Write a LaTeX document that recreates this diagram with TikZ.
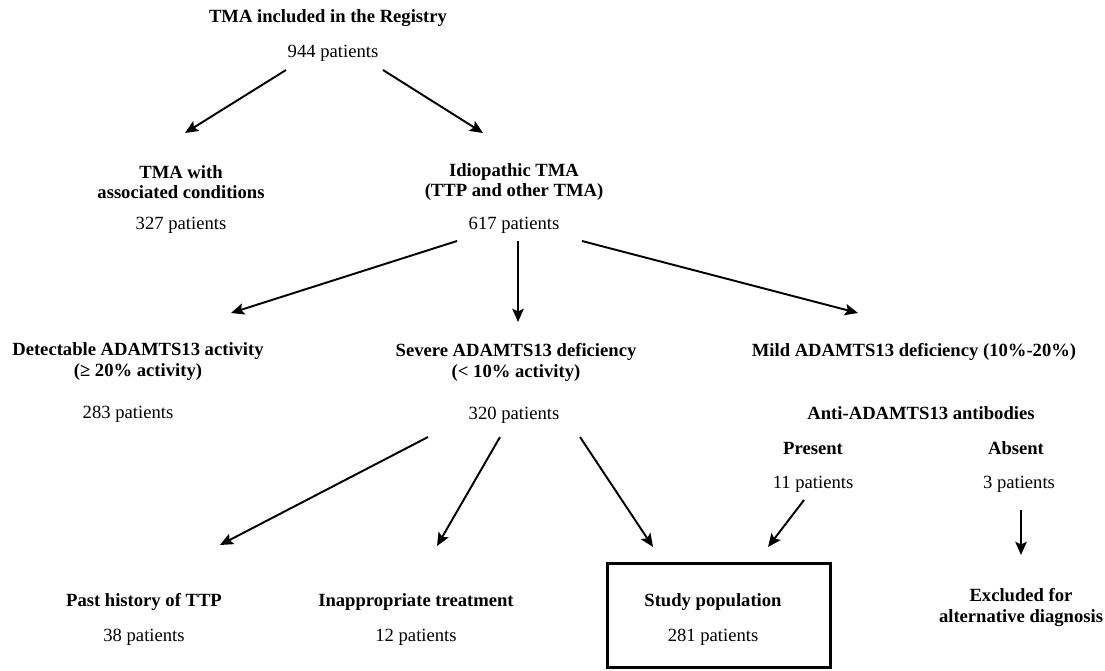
\documentclass[tikz,border=0pt]{standalone}
\usepackage{fontspec}
\setmainfont{Liberation Serif}
\usetikzlibrary{arrows.meta}

\tikzset{
  every node/.style={font=\fontsize{10.6}{11.8}\selectfont, inner sep=1pt},
  hd/.style={font=\fontsize{10.6}{11.8}\selectfont\bfseries, align=center},
  arr/.style={line width=1.1pt, -{Stealth[length=7.5pt,width=6.5pt,inset=1.5pt]}}
}

\begin{document}
\begin{tikzpicture}[x=0.02cm,y=-0.02cm]
\useasboundingbox[fill=white] (0,0) rectangle (1105,670);
% top
\node[hd] (reg) at (328,18) {TMA included in the Registry};
\node (p944) at (333,53) {944 patients};
\node[hd] (assoc) at (181,182) {TMA with\\associated conditions};
\node (p327) at (181,225) {327 patients};
\node[hd] (idio) at (514,182) {Idiopathic TMA\\(TTP and other TMA)};
\node (p617) at (514,225) {617 patients};

% ADAMTS13 level
\node[hd] (detect) at (138,361.5) {Detectable ADAMTS13 activity\\(≥ 20\% activity)};
\node (p283) at (128,414) {283 patients};
\node[hd] (severe) at (516,362.5) {Severe ADAMTS13 deficiency\\(< 10\% activity)};
\node (p320) at (514,415) {320 patients};
\node[hd] (mild) at (914,352) {Mild ADAMTS13 deficiency (10\%-20\%)};
\node[hd] (anti) at (921,413) {Anti-ADAMTS13 antibodies};
\node[hd] (pres) at (813,448) {Present};
\node[hd] (abs) at (1016,448) {Absent};
\node (p11) at (813,484) {11 patients};
\node (p3) at (1019,484) {3 patients};

% bottom row
\node[hd] (past) at (144,602) {Past history of TTP};
\node (p38) at (144,637) {38 patients};
\node[hd] (inapp) at (416,602) {Inappropriate treatment};
\node (p12) at (416,637) {12 patients};
\node[draw, line width=1.2pt, minimum width=4.46cm, minimum height=2.08cm] (study) at (719,615.5) {};
\node[hd] (stpop) at (713,602) {Study population};
\node (p281) at (713,637) {281 patients};
\node[hd] (excl) at (1021,607.5) {Excluded for\\alternative diagnosis};

% arrows
\draw[arr] ([shift={(-47,17)}]p944.center) -- ([shift={(4,-49)}]assoc.center);
\draw[arr] ([shift={(50,17)}]p944.center) -- ([shift={(-31,-49)}]idio.center);
\draw[arr] ([shift={(-57,16)}]p617.center) -- ([shift={(93,-48.5)}]detect.center);
\draw[arr] ([shift={(4,16)}]p617.center) -- ([shift={(2,-40.5)}]severe.center);
\draw[arr] ([shift={(68,16)}]p617.center) -- ([shift={(-56,-39)}]mild.center);
\draw[arr] ([shift={(-86,22)}]p320.center) -- ([shift={(76,-57)}]past.center);
\draw[arr] ([shift={(-14,22)}]p320.center) -- ([shift={(21,-56)}]inapp.center);
\draw[arr] ([shift={(66,22)}]p320.center) -- ([shift={(-66,-68.5)}]study.center);
\draw[arr] ([shift={(-9,16)}]p11.center) -- ([shift={(49,-68.5)}]study.center);
\draw[arr] ([shift={(2,26)}]p3.center) -- ([shift={(0,-52.5)}]excl.center);

\end{tikzpicture}
\end{document}
